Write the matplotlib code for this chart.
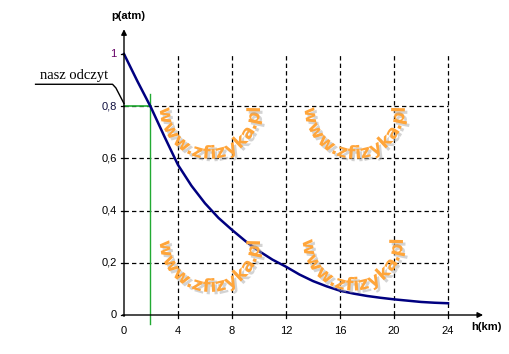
import matplotlib
matplotlib.use("Agg")
import matplotlib.pyplot as plt
import numpy as np
from matplotlib.transforms import IdentityTransform
from matplotlib.textpath import TextPath
from matplotlib.font_manager import FontProperties
import matplotlib.patheffects as pe

# ---- data ----
h_km = [0, 1, 2, 3, 4, 5, 6, 7, 8, 9, 10, 11, 12, 13, 14, 15, 16, 17, 18, 19, 20, 21, 22, 23, 24]
p_atm = [1.0, 0.895, 0.795, 0.683, 0.575, 0.495, 0.428, 0.372, 0.326, 0.283, 0.245, 0.212, 0.185,
         0.155, 0.130, 0.110, 0.093, 0.082, 0.073, 0.066, 0.060, 0.055, 0.050, 0.047, 0.045]
x_ticks = [0, 4, 8, 12, 16, 20, 24]
x_tick_labels = ["0", "4", "8", "12", "16", "20", "24"]
y_ticks = [0, 0.2, 0.4, 0.6, 0.8, 1.0]
y_tick_labels = ["0", "0,2", "0,4", "0,6", "0,8", "1"]
reading_h = 1.9
reading_p = 0.8
annotation_text = "nasz odczyt"
watermark = "www.zfizyka.pl"

W, H = 510, 354
fig = plt.figure(figsize=(W / 100, H / 100), dpi=100)
fig.patch.set_facecolor("white")

# axes placement in pixels: x=0 -> px124, 13.5 px/km ; p=0 -> py315, 261 px/unit
left_px, right_px, top_px, bot_px = 100, 505, 20, 335
ax = fig.add_axes([left_px / W, (H - bot_px) / H, (right_px - left_px) / W, (bot_px - top_px) / H])
ax.set_xlim((left_px - 124) / 13.5, (right_px - 124) / 13.5)
ax.set_ylim((315 - bot_px) / 261, (315 - top_px) / 261)
ax.axis("off")

# dashed grid
for xv in x_ticks[1:]:
    ax.plot([xv, xv], [0, 1.0], color="black", lw=0.9, ls=(0, (3.5, 2.5)), zorder=1)
for yv in y_ticks[1:-1]:
    ax.plot([0, 24], [yv, yv], color="black", lw=0.9, ls=(0, (3.5, 2.5)), zorder=1)

# watermarks (curved text)
wm_fs = 13
wm_col = "#ffa53a"
wm_prop = FontProperties(family="DejaVu Sans", weight="bold", size=wm_fs)

def curved_text(cx, cy, r, a0, a1, text):
    ox, oy = ax.transData.transform((cx, cy))
    widths = []
    for ch in text:
        w = TextPath((0, 0), ch, size=wm_fs, prop=wm_prop).get_extents().width
        widths.append(max(w, 3.0) + 0.5)
    widths = np.array(widths)
    cum = np.cumsum(widths) - widths / 2
    frac = cum / widths.sum()
    angs = a0 + (a1 - a0) * frac
    for ch, a in zip(text, angs):
        t = np.deg2rad(a)
        x = ox + r * np.cos(t)
        y = oy + r * np.sin(t)
        fig.text(x, y, ch, transform=IdentityTransform(), fontproperties=wm_prop,
                 color=wm_col, rotation=a + 90,
                 ha="center", va="center", rotation_mode="anchor", zorder=2,
                 path_effects=[pe.SimplePatchShadow(offset=(1.8, -1.8), shadow_rgbFace="#a8a8a8", alpha=0.5),
                               pe.Normal()])

for (cx, cy) in [(6.37, 0.79), (17.1, 0.79), (6.37, 0.28), (16.96, 0.285)]:
    curved_text(cx, cy, 45, 178, 362, watermark)

# curve
ax.plot(h_km, p_atm, color="#000080", lw=1.8, zorder=4)

# green reading lines
ax.plot([reading_h, reading_h], [-0.035, 0.845], color="#22aa33", lw=1.0, zorder=3)
ax.plot([0, reading_h + 0.1], [reading_p, reading_p], color="#22aa33", lw=1.2, zorder=3)

# axes with arrows
ax.annotate("", xy=(26.6, 0), xytext=(-0.1, 0),
            arrowprops=dict(arrowstyle="-|>", color="black", lw=1.0, mutation_scale=8, shrinkA=0, shrinkB=0), zorder=5)
ax.annotate("", xy=(0, 1.095), xytext=(0, -0.005),
            arrowprops=dict(arrowstyle="-|>", color="black", lw=1.0, mutation_scale=8, shrinkA=0, shrinkB=0), zorder=5)

# ticks
for xv, lab in zip(x_ticks, x_tick_labels):
    if xv > 0:
        ax.plot([xv, xv], [0, -0.01], color="black", lw=0.9, zorder=5)
    ax.text(xv, -0.062, lab, ha="center", va="center", fontsize=8, family="Liberation Sans", color="black")
for yv, lab in zip(y_ticks, y_tick_labels):
    ax.plot([-0.25, 0], [yv, yv], color="black", lw=0.9, zorder=5)
    col = "#660066" if lab == "1" else ("#101040" if lab == "0,8" else "black")
    ax.text(-0.55, yv, lab, ha="right", va="center", fontsize=8, family="Liberation Sans", color=col)

# axis labels
ax.text(0.35, 1.145, "p(atm)", ha="center", va="center", fontsize=8, family="Liberation Sans", fontweight="bold")
ax.text(25.75, -0.047, "h(km)", ha="left", va="center", fontsize=8, family="Liberation Sans", fontweight="bold")

# annotation "nasz odczyt"
ax.text(-6.25, 0.905, annotation_text, ha="left", va="baseline", fontsize=10.5, family="Liberation Serif", clip_on=False)
ax.plot([-6.55, -0.85, -0.6, 0], [0.884, 0.884, 0.87, 0.81], color="black", lw=1.0, clip_on=False, zorder=5)

fig.savefig("out.png", dpi=100)
